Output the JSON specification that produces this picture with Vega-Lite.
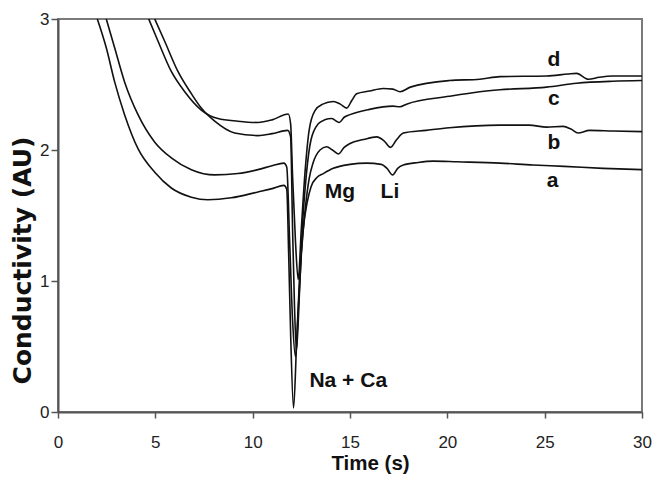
{
  "$schema": "https://vega.github.io/schema/vega-lite/v6.json",
  "autosize": "none",
  "width": 584,
  "height": 393,
  "padding": {"left": 58, "top": 19, "right": 12, "bottom": 68},
  "background": "white",
  "config": {
    "view": {"stroke": "#7a7a7a", "strokeWidth": 2},
    "axis": {
      "grid": false,
      "domainColor": "#555",
      "domainWidth": 2,
      "tickColor": "#555",
      "tickWidth": 1.5,
      "labelFlush": false,
      "labelFont": "Liberation Sans",
      "labelFontSize": 17,
      "labelColor": "#222",
      "titleFont": "Liberation Sans",
      "titleFontWeight": "bold",
      "titleFontSize": 20.5,
      "titleColor": "#111"
    }
  },
  "datasets": {
    "curves": [
      {"series": "a", "t": 2.02, "v": 3.0}, {"series": "a", "t": 2.48, "v": 2.78}, {"series": "a", "t": 2.91, "v": 2.52}, {"series": "a", "t": 3.42, "v": 2.27}, {"series": "a", "t": 4.11, "v": 2.01}, {"series": "a", "t": 4.97, "v": 1.83}, {"series": "a", "t": 5.82, "v": 1.71}, {"series": "a", "t": 6.85, "v": 1.64}, {"series": "a", "t": 7.7, "v": 1.62}, {"series": "a", "t": 8.9, "v": 1.635}, {"series": "a", "t": 10.27, "v": 1.68}, {"series": "a", "t": 11.0, "v": 1.705}, {"series": "a", "t": 11.6, "v": 1.73}, {"series": "a", "t": 11.75, "v": 1.7}, {"series": "a", "t": 11.85, "v": 1.2}, {"series": "a", "t": 11.95, "v": 0.6}, {"series": "a", "t": 12.1, "v": 0.03}, {"series": "a", "t": 12.25, "v": 0.5}, {"series": "a", "t": 12.4, "v": 1.0}, {"series": "a", "t": 12.6, "v": 1.4}, {"series": "a", "t": 12.8, "v": 1.6}, {"series": "a", "t": 13.0, "v": 1.72}, {"series": "a", "t": 13.3, "v": 1.79}, {"series": "a", "t": 13.63, "v": 1.82}, {"series": "a", "t": 14.14, "v": 1.86}, {"series": "a", "t": 15.0, "v": 1.89}, {"series": "a", "t": 15.85, "v": 1.9}, {"series": "a", "t": 16.6, "v": 1.89}, {"series": "a", "t": 16.9, "v": 1.86}, {"series": "a", "t": 17.19, "v": 1.81}, {"series": "a", "t": 17.45, "v": 1.86}, {"series": "a", "t": 17.74, "v": 1.885}, {"series": "a", "t": 18.5, "v": 1.905}, {"series": "a", "t": 19.27, "v": 1.915}, {"series": "a", "t": 20.5, "v": 1.91}, {"series": "a", "t": 22.7, "v": 1.9}, {"series": "a", "t": 24.4, "v": 1.885}, {"series": "a", "t": 26.0, "v": 1.875}, {"series": "a", "t": 28.0, "v": 1.86}, {"series": "a", "t": 30.0, "v": 1.85},
      {"series": "b", "t": 2.48, "v": 3.0}, {"series": "b", "t": 2.91, "v": 2.78}, {"series": "b", "t": 3.42, "v": 2.52}, {"series": "b", "t": 4.11, "v": 2.27}, {"series": "b", "t": 4.97, "v": 2.06}, {"series": "b", "t": 5.82, "v": 1.94}, {"series": "b", "t": 6.85, "v": 1.85}, {"series": "b", "t": 8.05, "v": 1.81}, {"series": "b", "t": 9.24, "v": 1.82}, {"series": "b", "t": 10.27, "v": 1.85}, {"series": "b", "t": 11.0, "v": 1.88}, {"series": "b", "t": 11.6, "v": 1.9}, {"series": "b", "t": 11.75, "v": 1.87}, {"series": "b", "t": 11.9, "v": 1.3}, {"series": "b", "t": 12.05, "v": 0.7}, {"series": "b", "t": 12.2, "v": 0.42}, {"series": "b", "t": 12.35, "v": 0.8}, {"series": "b", "t": 12.5, "v": 1.2}, {"series": "b", "t": 12.7, "v": 1.55}, {"series": "b", "t": 12.9, "v": 1.78}, {"series": "b", "t": 13.1, "v": 1.9}, {"series": "b", "t": 13.46, "v": 2.0}, {"series": "b", "t": 13.8, "v": 2.025}, {"series": "b", "t": 14.1, "v": 2.0}, {"series": "b", "t": 14.4, "v": 1.97}, {"series": "b", "t": 14.7, "v": 2.02}, {"series": "b", "t": 15.0, "v": 2.05}, {"series": "b", "t": 15.7, "v": 2.08}, {"series": "b", "t": 16.37, "v": 2.1}, {"series": "b", "t": 16.75, "v": 2.07}, {"series": "b", "t": 17.08, "v": 2.02}, {"series": "b", "t": 17.4, "v": 2.08}, {"series": "b", "t": 17.74, "v": 2.13}, {"series": "b", "t": 18.9, "v": 2.15}, {"series": "b", "t": 20.1, "v": 2.17}, {"series": "b", "t": 22.7, "v": 2.19}, {"series": "b", "t": 24.2, "v": 2.19}, {"series": "b", "t": 25.1, "v": 2.175}, {"series": "b", "t": 25.95, "v": 2.18}, {"series": "b", "t": 26.35, "v": 2.16}, {"series": "b", "t": 26.72, "v": 2.13}, {"series": "b", "t": 27.3, "v": 2.15}, {"series": "b", "t": 28.5, "v": 2.145}, {"series": "b", "t": 30.0, "v": 2.14},
      {"series": "c", "t": 4.97, "v": 3.0}, {"series": "c", "t": 5.48, "v": 2.83}, {"series": "c", "t": 6.16, "v": 2.6}, {"series": "c", "t": 6.85, "v": 2.43}, {"series": "c", "t": 7.36, "v": 2.32}, {"series": "c", "t": 8.05, "v": 2.22}, {"series": "c", "t": 9.07, "v": 2.13}, {"series": "c", "t": 10.27, "v": 2.11}, {"series": "c", "t": 11.0, "v": 2.125}, {"series": "c", "t": 11.8, "v": 2.15}, {"series": "c", "t": 11.95, "v": 2.1}, {"series": "c", "t": 12.05, "v": 1.4}, {"series": "c", "t": 12.15, "v": 0.8}, {"series": "c", "t": 12.25, "v": 0.47}, {"series": "c", "t": 12.4, "v": 0.9}, {"series": "c", "t": 12.55, "v": 1.4}, {"series": "c", "t": 12.75, "v": 1.8}, {"series": "c", "t": 13.0, "v": 2.08}, {"series": "c", "t": 13.37, "v": 2.2}, {"series": "c", "t": 13.7, "v": 2.23}, {"series": "c", "t": 14.06, "v": 2.24}, {"series": "c", "t": 14.45, "v": 2.21}, {"series": "c", "t": 14.7, "v": 2.25}, {"series": "c", "t": 15.0, "v": 2.27}, {"series": "c", "t": 16.0, "v": 2.31}, {"series": "c", "t": 17.2, "v": 2.335}, {"series": "c", "t": 17.57, "v": 2.33}, {"series": "c", "t": 17.9, "v": 2.35}, {"series": "c", "t": 20.1, "v": 2.41}, {"series": "c", "t": 21.67, "v": 2.445}, {"series": "c", "t": 22.7, "v": 2.46}, {"series": "c", "t": 25.1, "v": 2.48}, {"series": "c", "t": 26.64, "v": 2.51}, {"series": "c", "t": 28.5, "v": 2.525}, {"series": "c", "t": 30.0, "v": 2.53},
      {"series": "d", "t": 4.66, "v": 3.0}, {"series": "d", "t": 5.14, "v": 2.83}, {"series": "d", "t": 5.82, "v": 2.6}, {"series": "d", "t": 6.51, "v": 2.445}, {"series": "d", "t": 7.36, "v": 2.305}, {"series": "d", "t": 8.22, "v": 2.24}, {"series": "d", "t": 9.24, "v": 2.22}, {"series": "d", "t": 10.27, "v": 2.21}, {"series": "d", "t": 11.0, "v": 2.23}, {"series": "d", "t": 11.83, "v": 2.275}, {"series": "d", "t": 11.95, "v": 2.2}, {"series": "d", "t": 12.05, "v": 1.8}, {"series": "d", "t": 12.2, "v": 1.3}, {"series": "d", "t": 12.34, "v": 1.01}, {"series": "d", "t": 12.5, "v": 1.4}, {"series": "d", "t": 12.7, "v": 1.85}, {"series": "d", "t": 12.9, "v": 2.15}, {"series": "d", "t": 13.2, "v": 2.3}, {"series": "d", "t": 13.6, "v": 2.35}, {"series": "d", "t": 14.14, "v": 2.37}, {"series": "d", "t": 14.5, "v": 2.35}, {"series": "d", "t": 14.83, "v": 2.32}, {"series": "d", "t": 15.1, "v": 2.38}, {"series": "d", "t": 15.34, "v": 2.43}, {"series": "d", "t": 16.0, "v": 2.45}, {"series": "d", "t": 16.7, "v": 2.47}, {"series": "d", "t": 17.2, "v": 2.465}, {"series": "d", "t": 17.57, "v": 2.445}, {"series": "d", "t": 18.1, "v": 2.48}, {"series": "d", "t": 20.1, "v": 2.53}, {"series": "d", "t": 21.67, "v": 2.54}, {"series": "d", "t": 22.7, "v": 2.56}, {"series": "d", "t": 25.1, "v": 2.565}, {"series": "d", "t": 26.2, "v": 2.58}, {"series": "d", "t": 26.64, "v": 2.585}, {"series": "d", "t": 27.24, "v": 2.54}, {"series": "d", "t": 27.8, "v": 2.555}, {"series": "d", "t": 28.5, "v": 2.565}, {"series": "d", "t": 30.0, "v": 2.565}
    ],
    "labels": [
      {"label": "a", "t": 25.41, "v": 1.72},
      {"label": "b", "t": 25.47, "v": 2.005},
      {"label": "c", "t": 25.47, "v": 2.34},
      {"label": "d", "t": 25.47, "v": 2.645},
      {"label": "Mg", "t": 14.48, "v": 1.63},
      {"label": "Li", "t": 17.05, "v": 1.63},
      {"label": "Na + Ca", "t": 14.91, "v": 0.188}
    ]
  },
  "layer": [
    {
      "data": {"name": "curves"},
      "mark": {"type": "line", "color": "#111", "strokeWidth": 1.6, "interpolate": "monotone"},
      "encoding": {
        "x": {
          "field": "t", "type": "quantitative",
          "scale": {"domain": [0, 30], "nice": false},
          "axis": {
            "title": "Time (s)", "values": [0, 5, 10, 15, 20, 25, 30],
            "tickSize": 6, "labelPadding": 29, "labelBaseline": "alphabetic",
            "titleX": 312, "titleY": 57, "titleBaseline": "alphabetic", "titleAlign": "center"
          }
        },
        "y": {
          "field": "v", "type": "quantitative",
          "scale": {"domain": [0, 3], "nice": false},
          "axis": {
            "title": "Conductivity (AU)", "values": [0, 1, 2, 3], "format": "d",
            "tickSize": 7, "labelPadding": 2,
            "titleFont": "DejaVu Sans", "titleFontSize": 25, "titleAngle": -90,
            "titleX": -36, "titleY": 241, "titleAlign": "center", "titleBaseline": "middle"
          }
        },
        "detail": {"field": "series"}
      }
    },
    {
      "data": {"name": "labels"},
      "mark": {"type": "text", "font": "Liberation Sans", "fontWeight": "bold", "fontSize": 21, "color": "#111", "baseline": "alphabetic", "align": "center"},
      "encoding": {
        "x": {"field": "t", "type": "quantitative"},
        "y": {"field": "v", "type": "quantitative"},
        "text": {"field": "label"}
      }
    }
  ]
}
